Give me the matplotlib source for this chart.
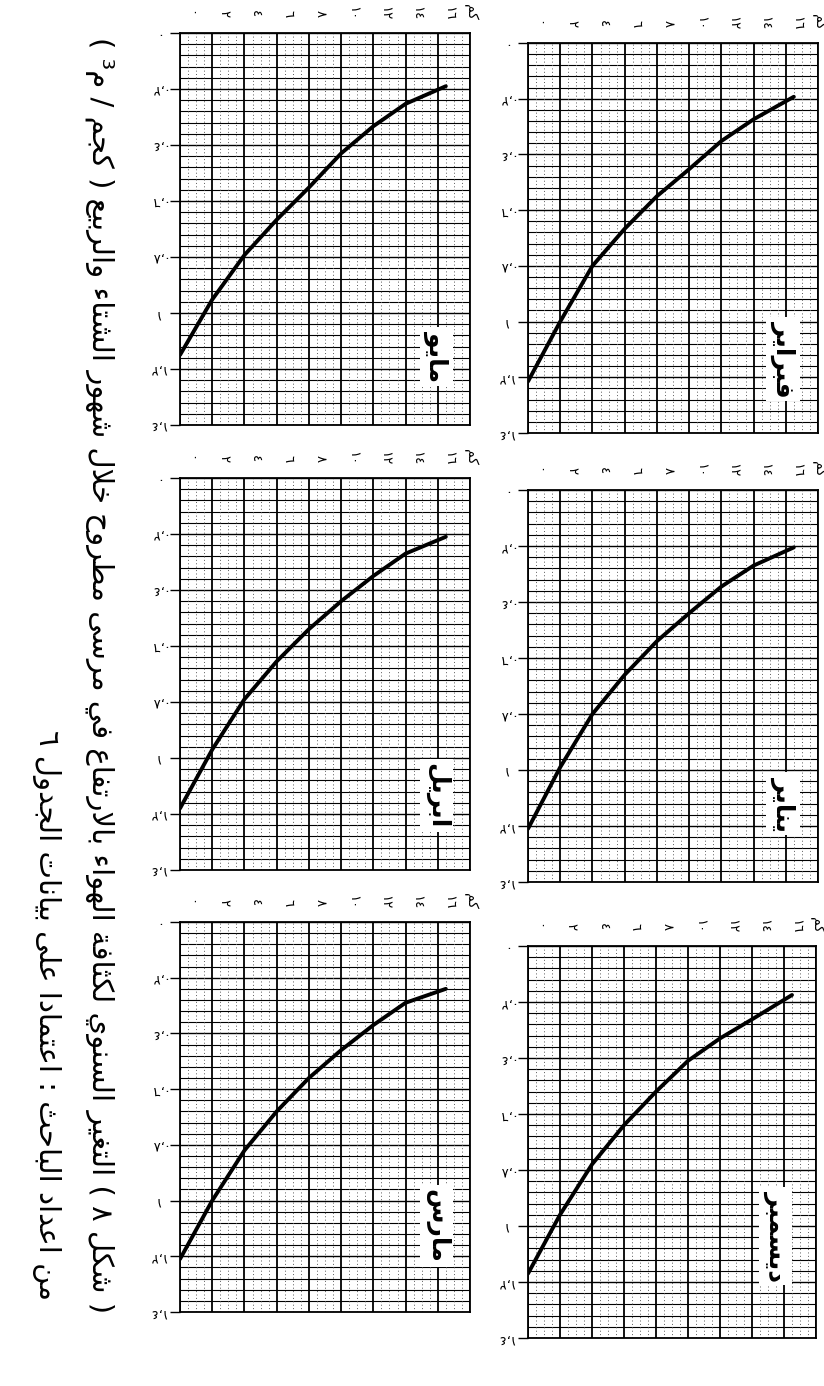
import matplotlib
matplotlib.use('Agg')
import matplotlib.pyplot as plt

plt.rcParams['font.family'] = ['DejaVu Sans']

# height (km) and air density (kg/m3)
heights = [0, 2, 4, 6, 8, 10, 12, 14, 16.5]
dec = [1.17, 0.96, 0.78, 0.64, 0.52, 0.41, 0.33, 0.262, 0.175]
jan = [1.21, 0.99, 0.80, 0.66, 0.54, 0.44, 0.345, 0.27, 0.205]
feb = [1.215, 1.0, 0.80, 0.667, 0.55, 0.453, 0.352, 0.274, 0.193]
mar = [1.21, 1.0, 0.82, 0.68, 0.56, 0.46, 0.37, 0.29, 0.24]
apr = [1.18, 0.97, 0.79, 0.655, 0.54, 0.44, 0.35, 0.27, 0.21]
may = [1.15, 0.952, 0.793, 0.667, 0.552, 0.43, 0.333, 0.253, 0.19]

month_names = ['ديسمبر', 'يناير', 'فبراير', 'مارس', 'ابريل', 'مايو']
height_ticks = [0, 2, 4, 6, 8, 10, 12, 14, 16]
height_labels = ['٠', '٢', '٤', '٦', '٨', '١٠', '١٢', '١٤', '١٦']
dens_ticks = [0, 0.2, 0.4, 0.6, 0.8, 1.0, 1.2, 1.4]
dens_labels = ['٠', '٠,٢', '٠,٤', '٠,٦', '٠,٨', '١', '١,٢', '١,٤']

caption = '( شكل ٨ ) التغير السنوي لكثافة الهواء بالارتفاع في مرسى مطروح خلال شهور الشتاء والربيع ( كجم / م³ )'
source = 'من اعداد الباحث : اعتمادا على بيانات الجدول ٦'

# --- tiny arabic shaper (matplotlib has no shaping / bidi) ---
DUAL = dict(zip('بتثجحخسشصضطظعغفقكلمنهي',
                [0xFE8F, 0xFE95, 0xFE99, 0xFE9D, 0xFEA1, 0xFEA5, 0xFEB1, 0xFEB5, 0xFEB9, 0xFEBD, 0xFEC1,
                 0xFEC5, 0xFEC9, 0xFECD, 0xFED1, 0xFED5, 0xFED9, 0xFEDD, 0xFEE1, 0xFEE5, 0xFEE9, 0xFEF1]))
RIGHT = dict(zip('آأإادذرزوىة',
                 [0xFE81, 0xFE83, 0xFE87, 0xFE8D, 0xFEA9, 0xFEAB, 0xFEAD, 0xFEAF, 0xFEED, 0xFEEF, 0xFE93]))
LAMALEF = {'آ': 0xFEF5, 'أ': 0xFEF7, 'إ': 0xFEF9, 'ا': 0xFEFB}


def ar(s):
    chars = []
    i = 0
    while i < len(s):
        if s[i] == 'ل' and i + 1 < len(s) and s[i + 1] in LAMALEF:
            chars.append(('LA', s[i + 1]))
            i += 2
        else:
            chars.append((s[i], None))
            i += 1

    def kind(c):
        if c[0] == 'LA' or c[0] in RIGHT:
            return 'R'
        if c[0] in DUAL:
            return 'D'
        return None

    out = []
    for j, c in enumerate(chars):
        k = kind(c)
        prev = kind(chars[j - 1]) if j > 0 else None
        nxt = kind(chars[j + 1]) if j + 1 < len(chars) else None
        jp = k is not None and prev == 'D'
        jn = k == 'D' and nxt is not None
        if c[0] == 'LA':
            out.append(chr(LAMALEF[c[1]] + (1 if jp else 0)))
        elif k == 'D':
            out.append(chr(DUAL[c[0]] + (3 if jp and jn else 1 if jp else 2 if jn else 0)))
        elif k == 'R':
            out.append(chr(RIGHT[c[0]] + (1 if jp else 0)))
        else:
            out.append(c[0])
    toks = []
    for ch in out:
        if ch.isdigit() and toks and toks[-1][-1].isdigit():
            toks[-1] += ch
        else:
            toks.append(ch)
    vis = ''.join(reversed(toks))
    return vis.translate(str.maketrans('()', ')('))


W, H = 824, 1386
fig = plt.figure(figsize=(W / 100, H / 100), dpi=100)
fig.patch.set_facecolor('white')

# panel boxes in pixels: (left, top, right, bottom), label pos in axes fraction
panels = [
    (dec, month_names[0], (528, 946, 816, 1338), (0.86, 0.26)),
    (jan, month_names[1], (528, 490, 818, 882), (0.88, 0.20)),
    (feb, month_names[2], (528, 43, 818, 433), (0.88, 0.19)),
    (mar, month_names[3], (180, 922, 470, 1312), (0.885, 0.22)),
    (apr, month_names[4], (180, 478, 470, 870), (0.885, 0.19)),
    (may, month_names[5], (180, 33, 470, 425), (0.885, 0.175)),
]

for dens, name, (l, t, r, b), (lx, ly) in panels:
    ax = fig.add_axes([l / W, 1 - b / H, (r - l) / W, (b - t) / H])
    ax.set_xlim(0, 18)
    ax.set_ylim(1.4, 0)
    # horizontal grid
    for k in range(36):
        y = k * 0.04
        ax.axhline(y, color='black', lw=1.0 if k % 5 == 0 else 0.8, zorder=1)
    # vertical grid
    for k in range(10):
        ax.axvline(k * 2, color='black', lw=1.3, zorder=1)
    for k in range(36):
        if k % 4:
            ax.axvline(k * 0.5, color='0.35', lw=0.7, ls=(0, (1, 2.5)), zorder=1)
    ax.plot(heights, dens, color='black', lw=2.8, solid_capstyle='round',
            solid_joinstyle='round', zorder=3)
    for sp in ax.spines.values():
        sp.set_linewidth(1.3)
    ax.set_xticks([])
    ax.set_yticks(dens_ticks)
    ax.set_yticklabels([])
    ax.tick_params(axis='y', length=7, width=1.0, direction='out')
    for v, s in zip(dens_ticks, dens_labels):
        ax.text(-0.08, v, s, transform=ax.get_yaxis_transform(), rotation=180,
                ha='center', va='center', fontsize=9.5)
    for v, s in zip(height_ticks, height_labels):
        ax.text(v + 0.7, 1.05, s, transform=ax.get_xaxis_transform(), rotation=-90,
                ha='center', va='center', fontsize=9.5)
    ax.text(1.0, 1.055, ar('كم'), transform=ax.transAxes, rotation=-90,
            ha='center', va='center', fontsize=10)
    ax.text(lx, ly, ar(name), transform=ax.transAxes, rotation=-90, ha='center', va='center',
            fontsize=18, fontweight='bold', zorder=5,
            bbox=dict(facecolor='white', edgecolor='none', pad=3))

fig.text(100 / W, 1 - 675 / H, ar(caption), rotation=-90, ha='center', va='center', fontsize=21)
fig.text(46 / W, 1 - 1015 / H, ar(source), rotation=-90, ha='center', va='center', fontsize=21)

fig.savefig('out.png', dpi=100, facecolor='white')
